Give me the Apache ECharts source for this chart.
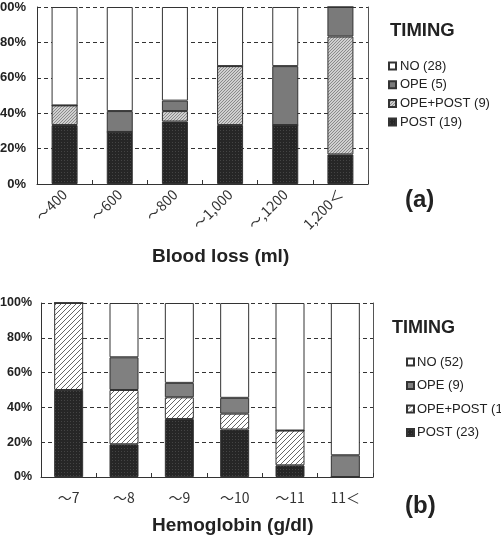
<!DOCTYPE html>
<html>
<head>
<meta charset="utf-8">
<script src="https://cdn.jsdelivr.net/npm/echarts@6/dist/echarts.min.js"></script>
<style>
  html, body { margin: 0; padding: 0; background: #fff; }
  #main { width: 501px; height: 537px; }
</style>
</head>
<body>
<div id="main"></div>
<script>
// (a) blood loss
var catsA = ['～400', '～600', '～800', '～1,000', '～,1200', '1,200＜'];
var postA = [33.3, 29.4, 35.3, 33.3, 33.3, 16.7];
var opePostA = [11.1, 0, 5.9, 33.3, 0, 66.6];
var opeA = [0, 11.8, 5.9, 0, 33.3, 16.7];
var noA = [55.6, 58.8, 52.9, 33.4, 33.4, 0];
var namesA = ['NO (28)', 'OPE (5)', 'OPE+POST (9)', 'POST (19)'];

// (b) hemoglobin
var catsB = ['～7', '～8', '～9', '～10', '～11', '11＜'];
var postB = [50, 18.8, 33.3, 27.3, 6.7, 0];
var opePostB = [50, 31.2, 12.5, 9.1, 20, 0];
var opeB = [0, 18.8, 8.3, 9.1, 0, 12.5];
var noB = [0, 31.2, 45.9, 54.5, 73.3, 87.5];
var namesB = ['NO (52)', 'OPE (9)', 'OPE+POST (16)', 'POST (23)'];

function hatch(size, bg, fg){
    var c = document.createElement('canvas');
    c.width = size; c.height = size;
    var ctx = c.getContext('2d');
    ctx.fillStyle = bg;
    ctx.fillRect(0, 0, size, size);
    ctx.strokeStyle = fg;
    ctx.lineWidth = 1;
    ctx.beginPath();
    ctx.moveTo(0, size); ctx.lineTo(size, 0);
    ctx.moveTo(-1, 1); ctx.lineTo(1, -1);
    ctx.moveTo(size - 1, size + 1); ctx.lineTo(size + 1, size - 1);
    ctx.stroke();
    return {image: c, repeat: 'repeat'};
}

function dots(bg, fg){
    var c = document.createElement('canvas');
    c.width = 3; c.height = 3;
    var ctx = c.getContext('2d');
    ctx.fillStyle = bg;
    ctx.fillRect(0, 0, 3, 3);
    ctx.fillStyle = fg;
    ctx.fillRect(1, 1, 1, 1);
    return {image: c, repeat: 'repeat'};
}

var darkFill = dots('#262626', '#444444');
var hatchA = hatch(3, '#d0d0d0', '#8a8a8a');
var hatchB = hatch(5, '#ffffff', '#666666');

var labelFont = 'Liberation Sans, Noto Sans CJK JP, sans-serif';
var cjkFont = 'Noto Sans CJK JP, sans-serif';

function xAxisFor(grid, cats, rotate, margin, size){
    return {
        type: 'category',
        gridIndex: grid,
        data: cats,
        axisLine: {lineStyle: {color: '#333', width: 1}},
        axisTick: {show: true, inside: true, length: 4, lineStyle: {color: '#333'}},
        axisLabel: {
            interval: 0,
            rotate: rotate,
            margin: margin,
            color: '#333',
            fontSize: size,
            fontFamily: cjkFont
        }
    };
}

function yAxisFor(grid, margin, size){
    return {
        type: 'value',
        gridIndex: grid,
        min: 0,
        max: 100,
        interval: 20,
        axisLine: {show: true, lineStyle: {color: '#333', width: 1}},
        axisTick: {show: false},
        axisLabel: {
            formatter: '{value}%',
            margin: margin,
            color: '#222',
            fontSize: size,
            fontWeight: 'bold',
            fontFamily: labelFont
        },
        splitLine: {lineStyle: {color: '#333', type: [4, 3], width: 1}}
    };
}

function rightAxis(grid){
    return {
        type: 'value',
        gridIndex: grid,
        position: 'right',
        min: 0,
        max: 100,
        axisLine: {show: true, lineStyle: {color: '#555', width: 1}},
        axisTick: {show: false},
        axisLabel: {show: false},
        splitLine: {show: false}
    };
}

function barSeries(name, data, fill, idx, stack, width){
    return {
        name: name,
        type: 'bar',
        stack: stack,
        xAxisIndex: idx,
        yAxisIndex: idx * 2,
        barWidth: width,
        data: data,
        itemStyle: {color: fill, borderColor: '#333', borderWidth: 1}
    };
}

var option = {
    animation: false,
    backgroundColor: '#fff',
    grid: [
        {left: 37, top: 7, width: 331, height: 177, outerBoundsMode: 'none'},
        {left: 41, top: 303, width: 332, height: 174, outerBoundsMode: 'none'}
    ],
    xAxis: [
        xAxisFor(0, catsA, 45, 8, 14),
        xAxisFor(1, catsB, 0, 14, 14)
    ],
    yAxis: [
        yAxisFor(0, 11, 13), rightAxis(0),
        yAxisFor(1, 9, 12.5), rightAxis(1)
    ],
    legend: [
        {
            data: namesA,
            orient: 'vertical',
            left: 383,
            top: 54,
            icon: 'rect',
            itemWidth: 7,
            itemHeight: 7,
            itemGap: 4.7,
            textStyle: {color: '#222', fontSize: 13, lineHeight: 14, padding: [0, 0, 0, -1], fontFamily: labelFont}
        },
        {
            data: namesB,
            orient: 'vertical',
            left: 401,
            top: 350,
            icon: 'rect',
            itemWidth: 7,
            itemHeight: 7,
            itemGap: 9.5,
            textStyle: {color: '#222', fontSize: 13, lineHeight: 14, padding: [0, 0, 0, -2], fontFamily: labelFont}
        }
    ],
    graphic: [
        {type: 'text', left: 390, top: 21, style: {text: 'TIMING', font: 'bold 18.5px Liberation Sans', fill: '#222'}},
        {type: 'text', left: 392, top: 319, style: {text: 'TIMING', font: 'bold 18px Liberation Sans', fill: '#222'}},
        {type: 'text', left: 152, top: 247, style: {text: 'Blood loss (ml)', font: 'bold 19px Liberation Sans', fill: '#222'}},
        {type: 'text', left: 152, top: 516, style: {text: 'Hemoglobin (g/dl)', font: 'bold 19px Liberation Sans', fill: '#222'}},
        {type: 'text', left: 405, top: 188, style: {text: '(a)', font: 'bold 24px Liberation Sans', fill: '#222'}},
        {type: 'text', left: 405, top: 494, style: {text: '(b)', font: 'bold 24px Liberation Sans', fill: '#222'}}
    ],
    series: [
        barSeries(namesA[3], postA, darkFill, 0, 'a', 26),
        barSeries(namesA[2], opePostA, hatchA, 0, 'a', 26),
        barSeries(namesA[1], opeA, '#7a7a7a', 0, 'a', 26),
        barSeries(namesA[0], noA, '#ffffff', 0, 'a', 26),
        barSeries(namesB[3], postB, darkFill, 1, 'b', 29),
        barSeries(namesB[2], opePostB, hatchB, 1, 'b', 29),
        barSeries(namesB[1], opeB, '#808080', 1, 'b', 29),
        barSeries(namesB[0], noB, '#ffffff', 1, 'b', 29)
    ]
};

var chart = echarts.init(document.getElementById('main'));
chart.setOption(option);
</script>
</body>
</html>
